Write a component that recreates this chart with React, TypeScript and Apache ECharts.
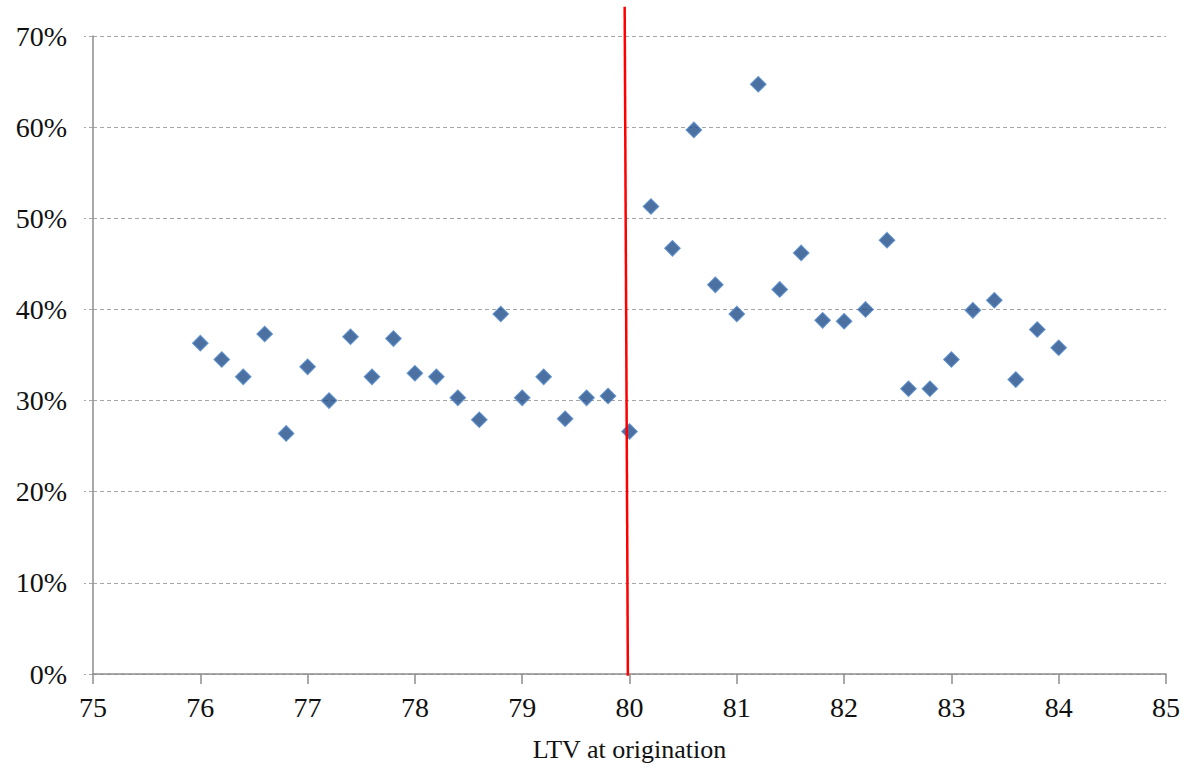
import React, { useEffect, useRef } from "react";
import * as echarts from "echarts";

const ltv = [
  76.0, 76.2, 76.4, 76.6, 76.8, 77.0, 77.2, 77.4, 77.6, 77.8,
  78.0, 78.2, 78.4, 78.6, 78.8, 79.0, 79.2, 79.4, 79.6, 79.8,
  80.0, 80.2, 80.4, 80.6, 80.8, 81.0, 81.2, 81.4, 81.6, 81.8,
  82.0, 82.2, 82.4, 82.6, 82.8, 83.0, 83.2, 83.4, 83.6, 83.8, 84.0,
];
const share = [
  36.3, 34.5, 32.6, 37.3, 26.4, 33.7, 30.0, 37.0, 32.6, 36.8,
  33.0, 32.6, 30.3, 27.9, 39.5, 30.3, 32.6, 28.0, 30.3, 30.5,
  26.6, 51.3, 46.7, 59.7, 42.7, 39.5, 64.7, 42.2, 46.2, 38.8,
  38.7, 40.0, 47.6, 31.3, 31.3, 34.5, 39.9, 41.0, 32.3, 37.8, 35.8,
];
const cutoffX = [79.985, 79.955];
const cutoffY = [-0.2, 73.2];
const xTicks = { min: 75, max: 85, step: 1 };
const yTicks = { min: 0, max: 70, step: 10 };

export default function App() {
  const ref = useRef<HTMLDivElement>(null);
  useEffect(() => {
    if (!ref.current) return;
    const chart = echarts.init(ref.current, undefined, { renderer: "svg" });
    const font = "'Liberation Serif', 'Times New Roman', serif";
    chart.setOption({
      animation: false,
      backgroundColor: "#ffffff",
      grid: { left: 93, right: 22, top: 36, bottom: 95, containLabel: false },
      xAxis: {
        type: "value",
        min: xTicks.min,
        max: xTicks.max,
        interval: xTicks.step,
        name: "LTV at origination",
        nameLocation: "middle",
        nameGap: 62,
        nameTextStyle: { fontFamily: font, fontSize: 26, color: "#111" },
        axisLine: { show: true, lineStyle: { color: "#8c8c8c", width: 1.5 } },
        axisTick: { show: true, length: 10, lineStyle: { color: "#8c8c8c", width: 1.5 } },
        axisLabel: { fontFamily: font, fontSize: 28, color: "#111", margin: 19 },
        splitLine: { show: false },
      },
      yAxis: {
        type: "value",
        min: yTicks.min,
        max: yTicks.max,
        interval: yTicks.step,
        axisLine: { show: true, lineStyle: { color: "#8c8c8c", width: 1.5 } },
        axisTick: { show: true, length: 9, lineStyle: { color: "#a6a6a6", type: [4, 3], width: 1 } },
        axisLabel: {
          fontFamily: font,
          fontSize: 28,
          color: "#111",
          margin: 26,
          formatter: "{value}%",
        },
        splitLine: { show: true, lineStyle: { color: "#a6a6a6", type: [4, 3], width: 1 } },
      },
      series: [
        {
          type: "scatter",
          symbol: "diamond",
          symbolSize: 15,
          data: ltv.map((x, i) => [x, share[i]]),
          itemStyle: { color: "#1f4c88", borderColor: "#4a7fc0", borderWidth: 1.5 },
          z: 3,
        },
        {
          type: "line",
          data: cutoffX.map((x, i) => [x, cutoffY[i]]),
          showSymbol: false,
          symbol: "none",
          clip: false,
          lineStyle: { color: "#ff0000", width: 2.5 },
          z: 4,
        },
      ],
    });
    return () => chart.dispose();
  }, []);
  return (
    <div
      ref={ref}
      style={{ position: "fixed", left: 0, top: 0, width: 1188, height: 769, background: "#fff" }}
    />
  );
}
